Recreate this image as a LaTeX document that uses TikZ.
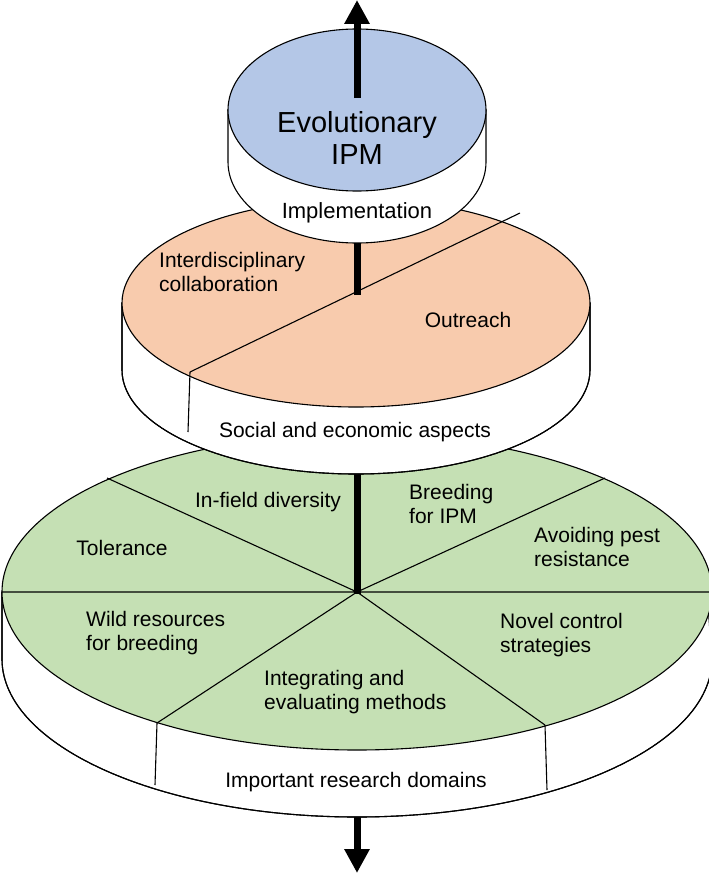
\documentclass[tikz,border=0pt]{standalone}
\usepackage{fontspec}
\setmainfont{Liberation Sans}
\usetikzlibrary{arrows.meta}
\definecolor{blueT}{HTML}{B4C7E7}
\definecolor{orangeT}{HTML}{F8CBAD}
\definecolor{greenT}{HTML}{C5E0B4}
\tikzset{
  rim/.style={draw=black,line width=1.1pt,fill=white},
  face/.style={draw=black,line width=1.1pt},
  divider/.style={draw=black,line width=1.1pt},
  axis/.style={line width=7pt,-{Triangle[width=24pt,length=24pt]}},
  axisplain/.style={line width=7pt},
  lbl/.style={font=\fontsize{21}{24}\selectfont,align=left,inner sep=0pt},
  lblc/.style={font=\fontsize{21}{24}\selectfont,align=center,inner sep=0pt},
}
\begin{document}
\begin{tikzpicture}[x=1pt,y=-1pt]
\useasboundingbox (0,0) rectangle (709,875);
% ---- bottom disc
\coordinate (gc) at (357,592);
\draw[axis] (357,810) -- (357,873);
\path[rim] (2,592) -- (2,659) arc[start angle=180,end angle=0,x radius=355,y radius=158] -- (712,592) -- cycle;
\draw[line width=1.1pt] (2,592) -- (2,659) arc[start angle=180,end angle=0,x radius=355,y radius=158] -- (707,592);
\fill[greenT] (357,592) ellipse[x radius=355,y radius=158];
\draw[face] (357,592) ellipse[x radius=355,y radius=158];
\coordinate (g1) at (107,478);
\coordinate (g2) at (605,478);
\coordinate (g3) at (157,723);
\coordinate (g4) at (545,725);
\coordinate (gl) at (2,592);
\coordinate (gr) at (712,592);
\coordinate (g3b) at (155,785);
\coordinate (g4b) at (547,790);
\draw[divider] (gc) -- (g1) (gc) -- (g2) (gc) -- (g3) (gc) -- (g4) (gl) -- (gr);
\draw[divider] (g3) -- (g3b) (g4) -- (g4b);
\draw[axisplain] (357,594) -- (357,440);
\node[lblc] (t1) at (268,502) {In-field diversity};
\node[lbl,anchor=west] (t2) at (409,504) {Breeding\\for IPM};
\node[lblc] (t3) at (122,548) {Tolerance};
\node[lbl,anchor=west] (t4) at (534,547) {Avoiding pest\\resistance};
\node[lbl,anchor=west] (t5) at (86,633) {Wild resources\\for breeding};
\node[lbl,anchor=west] (t6) at (500,635) {Novel control\\strategies};
\node[lbl,anchor=west] (t7) at (264,692) {Integrating and\\evaluating methods};
\node[lblc] (t8) at (356,782) {Important research domains};
% ---- middle disc
\coordinate (oc) at (356,293);
\path[rim] (122,303) -- (122,370) arc[start angle=180,end angle=0,x radius=234,y radius=104] -- (590,303) -- cycle;
\draw[line width=1.1pt] (122,303) -- (122,370) arc[start angle=180,end angle=0,x radius=234,y radius=104] -- (590,303);
\fill[orangeT] (356,303) ellipse[x radius=234,y radius=104];
\draw[face] (356,303) ellipse[x radius=234,y radius=104];
\coordinate (o1) at (190,372);
\coordinate (o2) at (520,213);
\coordinate (o1b) at (188,432);
\draw[divider] (o1) -- (o2) (o1) -- (o1b);
\draw[axisplain] (357,295) -- (357,200);
\node[lbl,anchor=west] (m1) at (159,272) {Interdisciplinary\\collaboration};
\node[lblc] (m2) at (468,320) {Outreach};
\node[lblc] (m3) at (355,432) {Social and economic aspects};
% ---- top disc
\path[rim] (228,110) -- (228,162) arc[start angle=180,end angle=0,x radius=129,y radius=81] -- (486,110) -- cycle;
\fill[blueT] (357,110) ellipse[x radius=129,y radius=81];
\draw[face] (357,110) ellipse[x radius=129,y radius=81];
\draw[axis] (357,98) -- (357,0);
\node[font=\fontsize{29}{32}\selectfont,align=center,inner sep=0pt] (e1) at (357,138) {Evolutionary\\IPM};
\node[font=\fontsize{22}{24}\selectfont,inner sep=0pt] (e2) at (357,213) {Implementation};
\end{tikzpicture}
\end{document}
